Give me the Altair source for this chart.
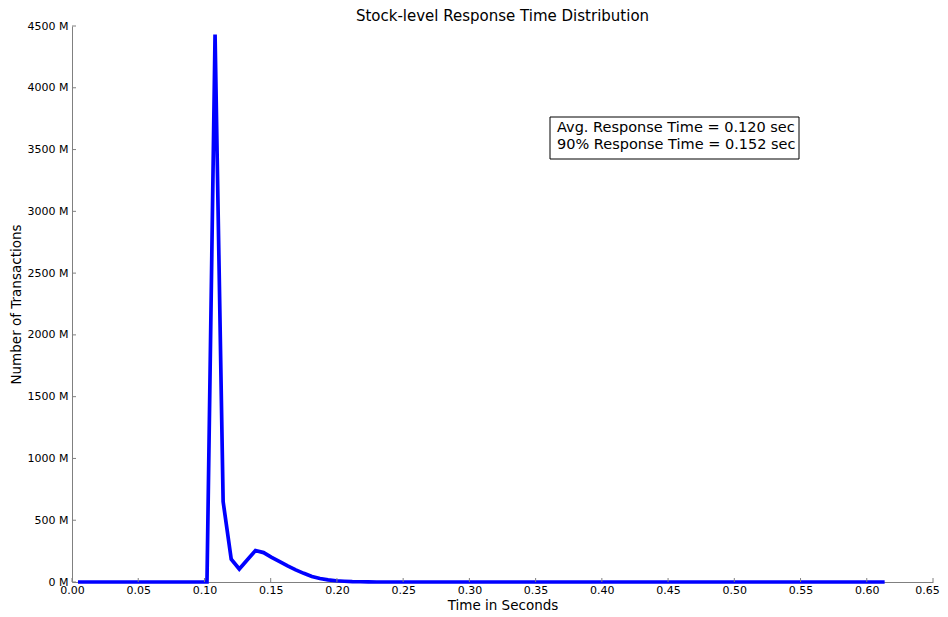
import altair as alt
import pandas as pd

# ---- data ----
time_s = [
    0.0045, 0.0106, 0.0167, 0.0228, 0.0289, 0.0350, 0.0410, 0.0471, 0.0532, 0.0593,
    0.0654, 0.0715, 0.0776, 0.0837, 0.0898, 0.0959, 0.1019, 0.1080, 0.1141, 0.1202,
    0.1263, 0.1324, 0.1385, 0.1446, 0.1507, 0.1568, 0.1628, 0.1689, 0.1750, 0.1811,
    0.1872, 0.1933, 0.1994, 0.2055, 0.2116, 0.2177, 0.2237, 0.2298, 0.2359, 0.2420,
    0.2481, 0.2542, 0.2603, 0.2664, 0.2725, 0.2786, 0.2846, 0.2907, 0.2968, 0.3029,
    0.3090, 0.3151, 0.3212, 0.3273, 0.3334, 0.3395, 0.3455, 0.3516, 0.3577, 0.3638,
    0.3699, 0.3760, 0.3821, 0.3882, 0.3943, 0.4004, 0.4064, 0.4125, 0.4186, 0.4247,
    0.4308, 0.4369, 0.4430, 0.4491, 0.4552, 0.4613, 0.4673, 0.4734, 0.4795, 0.4856,
    0.4917, 0.4978, 0.5039, 0.5100, 0.5161, 0.5222, 0.5282, 0.5343, 0.5404, 0.5465,
    0.5526, 0.5587, 0.5648, 0.5709, 0.5770, 0.5831, 0.5891, 0.5952, 0.6013, 0.6074,
    0.6135,
]
transactions_m = [
    0, 0, 0, 0, 0, 0, 0, 0, 0, 0,
    0, 0, 0, 0, 0, 0, 0, 4430, 650, 185,
    105, 180, 255, 238, 200, 165, 130, 98, 70, 45,
    28, 17, 10, 6, 3, 2, 1, 0, 0, 0,
    0, 0, 0, 0, 0, 0, 0, 0, 0, 0,
    0, 0, 0, 0, 0, 0, 0, 0, 0, 0,
    0, 0, 0, 0, 0, 0, 0, 0, 0, 0,
    0, 0, 0, 0, 0, 0, 0, 0, 0, 0,
    0, 0, 0, 0, 0, 0, 0, 0, 0, 0,
    0, 0, 0, 0, 0, 0, 0, 0, 0, 0,
    0,
]
x_ticks = [0.00, 0.05, 0.10, 0.15, 0.20, 0.25, 0.30, 0.35, 0.40, 0.45, 0.50, 0.55, 0.60, 0.65]
y_ticks = [0, 500, 1000, 1500, 2000, 2500, 3000, 3500, 4000, 4500]
title_text = "Stock-level Response Time Distribution"
x_title = "Time in Seconds"
y_title = "Number of Transactions"
avg_text = "Avg. Response Time = 0.120 sec"
p90_text = "90% Response Time = 0.152 sec"

W, H = 861, 556
FONT = "DejaVu Sans"
AXIS_GRAY = "#808080"

df = pd.DataFrame({"t": time_s, "n": transactions_m})
xscale = alt.Scale(domain=[0, 0.65], nice=False, zero=False)
yscale = alt.Scale(domain=[0, 4500], nice=False)

line = alt.Chart(df).mark_line(color="#0000ff", strokeWidth=3.7, strokeJoin="miter", strokeCap="butt").encode(
    x=alt.X("t:Q", scale=xscale,
            axis=alt.Axis(values=x_ticks, format=".2f", title=x_title, labelPadding=2,
                          titlePadding=3, labelFlush=False, labelOverlap=False,
                          labelOffset={"condition": {"test": "datum.value > 0.64", "value": -6}, "value": 0})),
    y=alt.Y("n:Q", scale=yscale,
            axis=alt.Axis(values=y_ticks, labelExpr="datum.value + ' M'", title=y_title,
                          labelPadding=4, titlePadding=4, labelFlush=False, labelOverlap=False)),
)

xt = alt.Chart(pd.DataFrame({"t": x_ticks})).mark_rule(color=AXIS_GRAY, strokeWidth=1).encode(
    x=alt.X("t:Q", scale=xscale), y=alt.value(H), y2=alt.value(H - 4)
)
yt = alt.Chart(pd.DataFrame({"n": y_ticks})).mark_rule(color=AXIS_GRAY, strokeWidth=1).encode(
    y=alt.Y("n:Q", scale=yscale), x=alt.value(0), x2=alt.value(4)
)

ann_df = pd.DataFrame({"a": [0]})
box = alt.Chart(ann_df).mark_rect(fill="white", stroke="black", strokeWidth=1).encode(
    x=alt.value(478), x2=alt.value(727), y=alt.value(91), y2=alt.value(133)
)
txt1 = alt.Chart(ann_df).mark_text(align="left", baseline="middle", font=FONT, fontSize=14.5, color="black").encode(
    x=alt.value(485), y=alt.value(102), text=alt.value(avg_text)
)
txt2 = alt.Chart(ann_df).mark_text(align="left", baseline="middle", font=FONT, fontSize=14.5, color="black").encode(
    x=alt.value(485), y=alt.value(119), text=alt.value(p90_text)
)

chart = alt.layer(line, xt, yt, box, txt1, txt2).properties(
    width=W, height=H,
    background="white",
    title=alt.TitleParams(title_text, font=FONT, fontSize=15, fontWeight="normal", color="black",
                          anchor="middle", offset=-4),
    autosize=alt.AutoSizeParams(type="none"),
    padding={"left": 64, "top": 18, "right": 7, "bottom": 29},
).configure_view(stroke=None).configure_axis(
    grid=False, ticks=False, domainColor=AXIS_GRAY, domainWidth=1,
    labelFont=FONT, labelFontSize=11, labelColor="black",
    titleFont=FONT, titleFontSize=13.5, titleFontWeight="normal", titleColor="black",
)

chart.save("out.html", embed_options={"renderer": "svg", "actions": False})
